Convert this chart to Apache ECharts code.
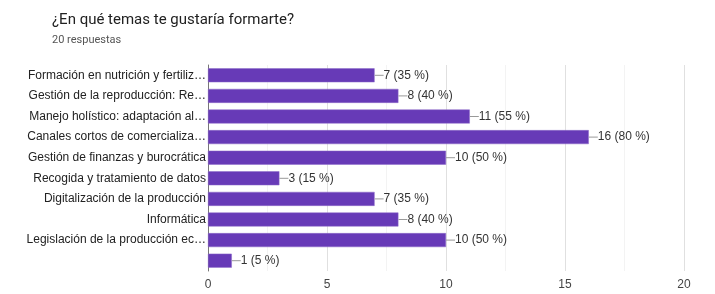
<!DOCTYPE html>
<html>
<head>
<meta charset="utf-8">
<script src="https://cdn.jsdelivr.net/npm/echarts@6/dist/echarts.min.js"></script>
<style>
  html, body { margin: 0; padding: 0; background: #fff; }
  #main { width: 715px; height: 294px; }
</style>
</head>
<body>
<div id="main"></div>
<script>
var categories = [
    'Formación en nutrición y fertiliz…',
    'Gestión de la reproducción: Re…',
    'Manejo holístico: adaptación al…',
    'Canales cortos de comercializa…',
    'Gestión de finanzas y burocrática',
    'Recogida y tratamiento de datos',
    'Digitalización de la producción',
    'Informática',
    'Legislación de la producción ec…',
    ''
];
var counts = [7, 8, 11, 16, 10, 3, 7, 8, 10, 1];
var totalResponses = 20;
var xTicks = [0, 5, 10, 15, 20];

var myChart = echarts.init(document.getElementById('main'));

var option = {
    animation: false,
    textStyle: { fontFamily: '"Liberation Sans", Arial, sans-serif' },
    title: {
        text: '¿En qué temas te gustaría formarte?',
        subtext: totalResponses + ' respuestas',
        left: 47,
        top: 8,
        itemGap: 7,
        textStyle: { fontSize: 15, fontWeight: 'normal', color: '#212121', fontFamily: 'Roboto, sans-serif' },
        subtextStyle: { fontSize: 11, color: '#555', fontFamily: 'Roboto, sans-serif' }
    },
    grid: { left: 208, right: 31, top: 65, bottom: 23 },
    xAxis: {
        type: 'value',
        min: xTicks[0],
        max: xTicks[xTicks.length - 1],
        interval: 5,
        axisLine: { show: false },
        axisTick: { show: false },
        axisLabel: { fontSize: 12, color: '#444', margin: 8 },
        splitLine: { lineStyle: { color: '#e0e0e0' } },
        minorTick: { show: false, splitNumber: 2 },
        minorSplitLine: { show: true, lineStyle: { color: '#f3f3f3' } }
    },
    yAxis: {
        type: 'category',
        data: categories,
        inverse: true,
        axisLine: { show: true, lineStyle: { color: '#777' } },
        axisTick: { show: false },
        axisLabel: { fontSize: 12, color: '#222', margin: 2 }
    },
    series: [{
        type: 'bar',
        data: counts,
        barWidth: 14,
        itemStyle: { color: '#673ab7', borderColor: '#8c6bc8', borderWidth: 0.5 },
        label: {
            show: true,
            position: 'right',
            distance: 0,
            formatter: function (p) {
                return '{l|}' + p.value + ' (' + Math.round(p.value / totalResponses * 100) + ' %)';
            },
            fontSize: 12,
            color: '#333',
            rich: {
                l: { width: 9, height: 1, backgroundColor: '#999' }
            }
        }
    }]
};

myChart.setOption(option, true);
</script>
</body>
</html>
